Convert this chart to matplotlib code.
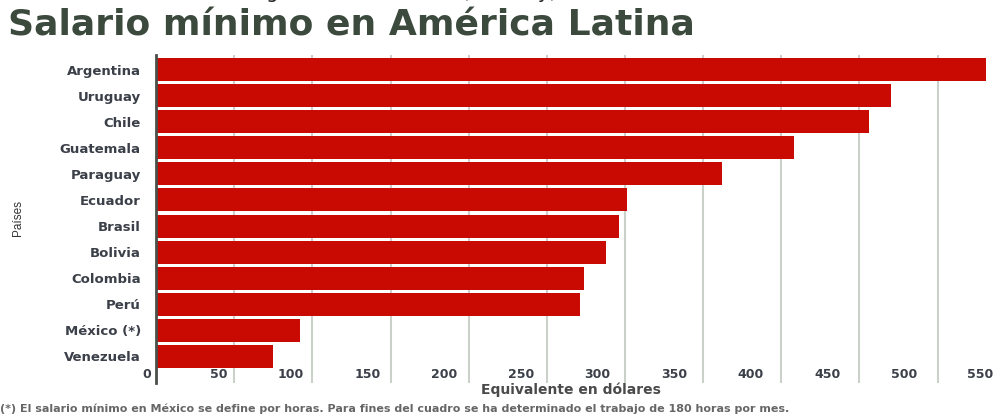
import matplotlib.pyplot as plt
import matplotlib.transforms as mtransforms
import numpy as np

paises = ['Argentina', 'Uruguay', 'Chile', 'Guatemala', 'Paraguay', 'Ecuador',
          'Brasil', 'Bolivia', 'Colombia', 'Perú', 'México (*)', 'Venezuela']
salario_usd = [531, 470, 456, 408, 362, 301, 296, 288, 274, 271, 92, 75]
ticks_x = [0, 50, 100, 150, 200, 250, 300, 350, 400, 450, 500, 550]

fig = plt.figure(figsize=(10.08, 4.16), dpi=100)
ax = fig.add_axes([0.1548, 0.0793, 0.8452, 0.7885])

y_pos = np.arange(len(paises))[::-1]
ax.barh(y_pos, salario_usd, height=0.88, color='#c80a02', zorder=3)

ax.set_xlim(0, 545)
ax.set_ylim(-1.02, 11.56)

# gridlines run through the tick label row, labels sit left of each line
for v in ticks_x[1:]:
    ax.axvline(v, color='#c9d1c9', lw=1.5, zorder=1)
ax.set_xticks([])
ax.set_yticks(y_pos)
ax.set_yticklabels(paises, fontsize=9.5, fontweight='bold', color='#3a3f48')
ax.tick_params(axis='y', length=0, pad=11)

# the labels in the original drift a little left of their gridlines
off = mtransforms.offset_copy(ax.get_xaxis_transform(), fig=fig, x=-5, y=0, units='dots')
for v in ticks_x:
    ax.text(v * 0.98, 0.025, str(v), transform=off, ha='right', va='center',
            fontsize=9, fontweight='bold', color='#3a3f48')

for s in ['top', 'right', 'bottom']:
    ax.spines[s].set_visible(False)
ax.spines['left'].set_color('#4a4f4a')
ax.spines['left'].set_linewidth(2)
ax.spines['left'].set_zorder(4)

fig.text(0.0179, 0.476, 'Países', rotation=90, ha='center', va='center',
         fontsize=8.5, color='#333333', family='Liberation Sans')
fig.text(0.566, 0.062, 'Equivalente en dólares', ha='center', va='center',
         fontsize=10, fontweight='bold', color='#4a4a4a')

fig.text(0.008, 0.938, 'Salario mínimo en América Latina', ha='left', va='center',
         fontsize=26, fontweight='bold', color='#3c4a3e')
fig.text(0.347, 1.004, 'Minimum wage in Latin America (monthly)', ha='center',
         va='baseline', fontsize=14, color='#222222')

fig.text(0.0, 0.018, '(*) El salario mínimo en México se define por horas. Para fines del cuadro '
         'se ha determinado el trabajo de 180 horas por mes.', ha='left', va='center',
         fontsize=8, fontweight='bold', color='#666666')

fig.savefig('out.png', dpi=100)
